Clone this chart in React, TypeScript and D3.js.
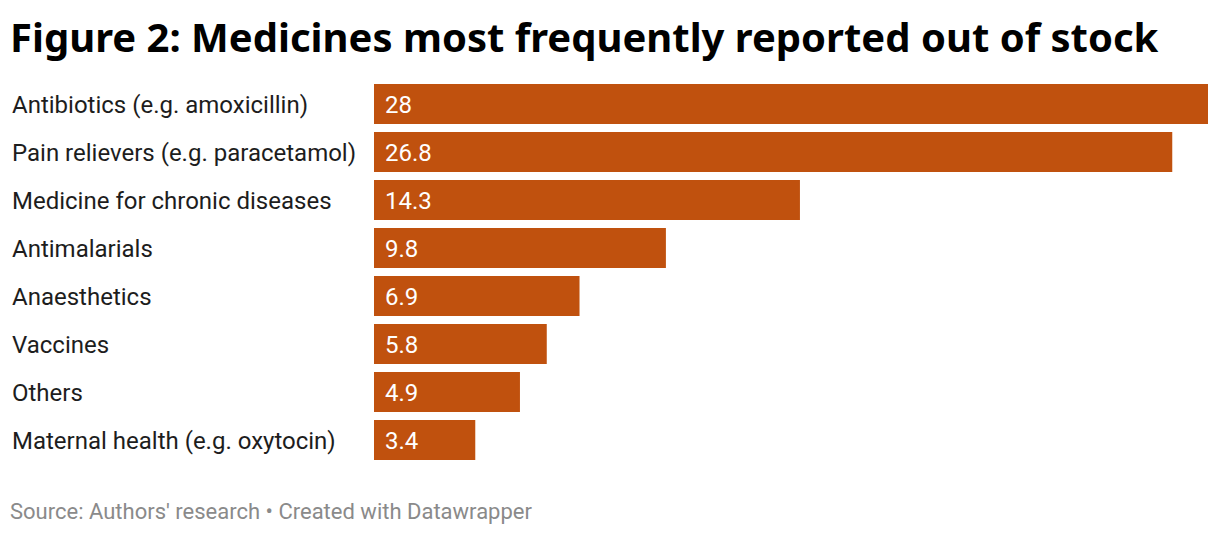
import React from "react";
import * as d3 from "d3";

const categories = [
  "Antibiotics (e.g. amoxicillin)",
  "Pain relievers (e.g. paracetamol)",
  "Medicine for chronic diseases",
  "Antimalarials",
  "Anaesthetics",
  "Vaccines",
  "Others",
  "Maternal health (e.g. oxytocin)",
];
const values = [28, 26.8, 14.3, 9.8, 6.9, 5.8, 4.9, 3.4];
const valueLabels = ["28", "26.8", "14.3", "9.8", "6.9", "5.8", "4.9", "3.4"];

const W = 1220;
const H = 536;

export default function App() {
  const x = d3.scaleLinear().domain([0, 28]).range([374, 1208]);
  const y = d3
    .scaleBand<string>()
    .domain(categories)
    .range([80, 464])
    .paddingInner(8 / 48)
    .paddingOuter(4 / 48);
  return (
    <svg
      width={W}
      height={H}
      style={{ position: "absolute", left: 0, top: 0, background: "#fff" }}
    >
      <text
        x={10}
        y={52}
        fontFamily="'Noto Sans', sans-serif"
        fontWeight={700}
        fontSize={40}
        fill="#000"
      >
        Figure 2: Medicines most frequently reported out of stock
      </text>
      {categories.map((c, i) => {
        const yy = y(c)!;
        const bh = y.bandwidth();
        return (
          <g key={c}>
            <text
              x={12}
              y={yy + bh / 2 + 8.5}
              fontFamily="Roboto, sans-serif"
              fontSize={24}
              fill="#1d1d1d"
            >
              {c}
            </text>
            <rect
              x={x(0)}
              y={yy}
              width={x(values[i]) - x(0)}
              height={bh}
              fill="#c0510e"
            />
            <text
              x={x(0) + 11}
              y={yy + bh / 2 + 8.5}
              fontFamily="Roboto, sans-serif"
              fontSize={24}
              fill="#fff"
            >
              {valueLabels[i]}
            </text>
          </g>
        );
      })}
      <text
        x={10}
        y={519}
        fontFamily="Roboto, sans-serif"
        fontSize={22}
        fill="#8a8a8a"
      >
        Source: Authors' research • Created with Datawrapper
      </text>
    </svg>
  );
}
